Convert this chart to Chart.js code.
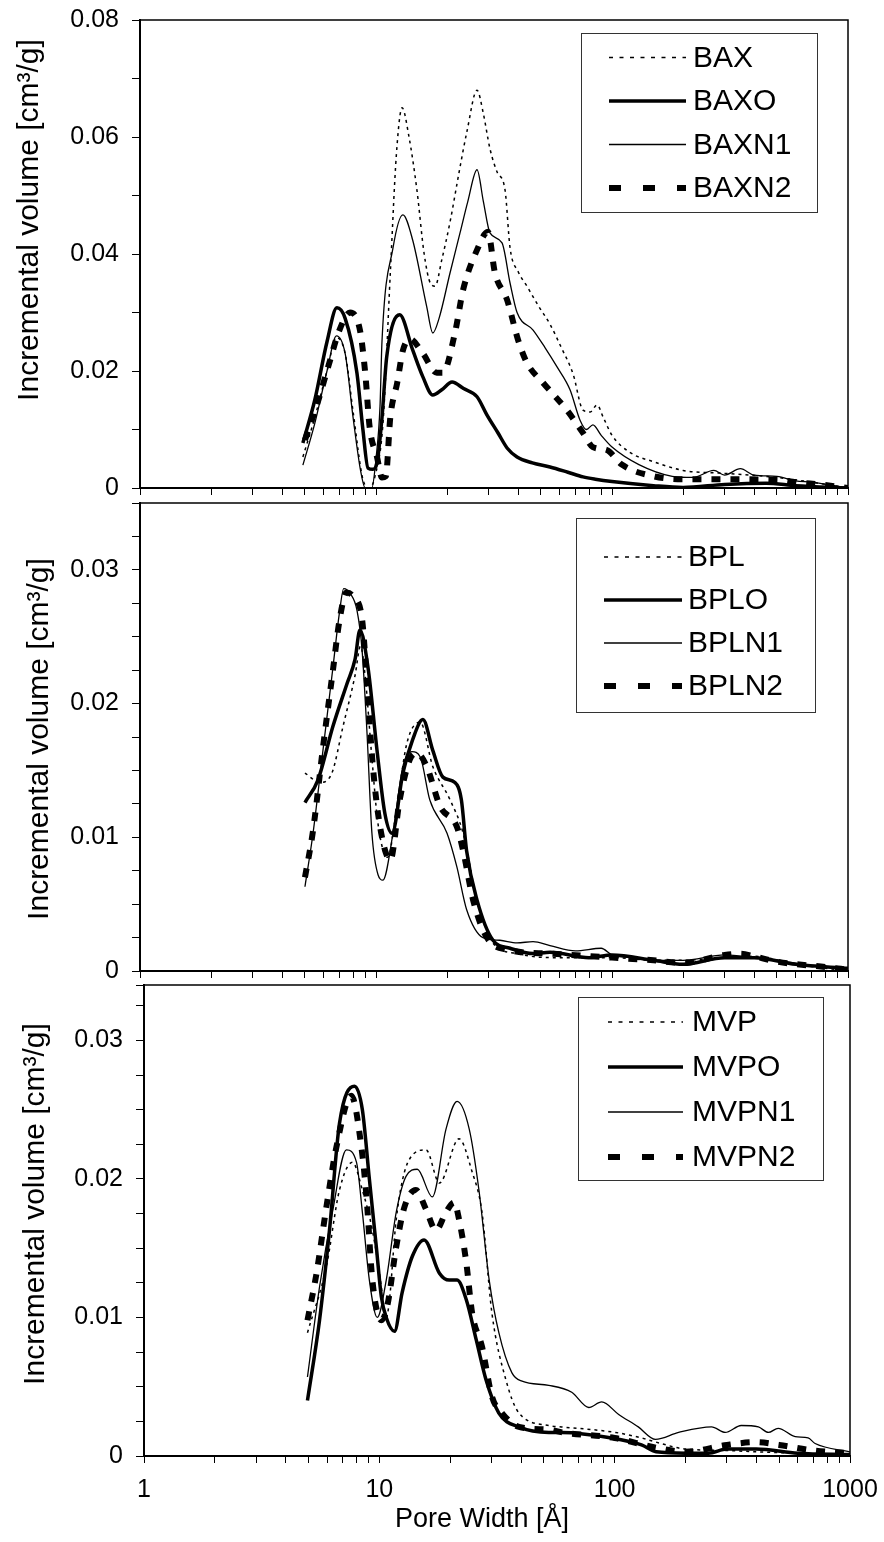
<!DOCTYPE html>
<html>
<head>
<meta charset="utf-8">
<script src="https://cdn.jsdelivr.net/npm/chart.js@4.4.0/dist/chart.umd.min.js"></script>
<style>
  body { margin: 0; background: #fff; width: 884px; height: 1542px; position: relative; overflow: hidden; }
  .panel { position: absolute; left: 0; width: 884px; }
  canvas { display: block; }
</style>
</head>
<body>
<div class="panel" style="top:0;height:500px"><canvas id="p1" width="884" height="500"></canvas></div>
<div class="panel" style="top:483px;height:500px"><canvas id="p2" width="884" height="500"></canvas></div>
<div class="panel" style="top:965px;height:577px"><canvas id="p3" width="884" height="577"></canvas></div>
<script>
// --- DATA (pore width in Å, incremental volume in cm3/g) ---
const baxX = [4.9, 5.5, 6.2, 6.8, 7.4, 8.0, 8.8, 9.4, 9.9, 10.7, 11.5, 12.2, 12.9, 13.8, 14.9, 16.0, 17.0, 17.8, 19.0, 20.6, 22.5, 24.3, 26.8, 28.5, 30.4, 32.6, 35.2, 37, 40, 43.6, 49, 54.6, 61, 68.4, 75.4, 81, 86.4, 92, 100, 120, 150, 200, 300, 500, 700, 1000];
const baxY = [0.0053, 0.012, 0.020, 0.0257, 0.023, 0.013, 0.0015, 0.0, 0.002, 0.011, 0.0368, 0.057, 0.065, 0.060, 0.051, 0.040, 0.035, 0.0345, 0.039, 0.0455, 0.054, 0.061, 0.068, 0.064, 0.058, 0.054, 0.051, 0.041, 0.037, 0.0345, 0.031, 0.028, 0.024, 0.0195, 0.0133, 0.013, 0.0142, 0.012, 0.009, 0.006, 0.0045, 0.003, 0.0025, 0.0018, 0.001, 0.0];
const baxoX = [4.9, 5.5, 6.2, 6.83, 7.4, 8.3, 8.8, 9.25, 9.7, 10.1, 10.6, 11.1, 12.6, 14.3, 15.8, 17.4, 19, 21, 23.5, 26.8, 29.5, 32.9, 36, 39.6, 46, 54.6, 65, 75.4, 85, 100, 150, 200, 300, 450, 600, 1000];
const baxoY = [0.0077, 0.015, 0.025, 0.0308, 0.029, 0.0197, 0.010, 0.0034, 0.0032, 0.0043, 0.012, 0.0224, 0.0296, 0.0236, 0.019, 0.0159, 0.0168, 0.0181, 0.017, 0.0156, 0.0125, 0.0094, 0.0068, 0.0053, 0.0043, 0.0036, 0.0027, 0.0019, 0.0015, 0.0011, 0.0004, 0.0001, 0.0006, 0.0008, 0.0004, 0.0];
const baxn1X = [4.9, 5.5, 6.2, 6.8, 7.4, 8.0, 8.6, 9.0, 9.6, 10.0, 10.4, 10.6, 11.8, 13.0, 14.3, 16.4, 17.4, 18.5, 20.6, 22.7, 24.5, 26.8, 28.5, 30.4, 34.2, 37, 39.6, 46.3, 52, 58.5, 66.4, 73.2, 78, 83, 90, 100, 130, 180, 220, 270, 300, 350, 400, 500, 600, 700, 1000];
const baxn1Y = [0.0039, 0.011, 0.020, 0.026, 0.023, 0.012, 0.003, 0.0, 0.0, 0.005, 0.014, 0.025, 0.041, 0.0467, 0.0424, 0.031, 0.0265, 0.029, 0.0368, 0.0436, 0.049, 0.0544, 0.049, 0.0436, 0.0419, 0.035, 0.030, 0.027, 0.024, 0.0207, 0.0168, 0.0116, 0.010, 0.0108, 0.009, 0.007, 0.004, 0.002, 0.0018, 0.003, 0.0022, 0.0033, 0.0022, 0.002, 0.0012, 0.001, 0.0];
const baxn2X = [5.0, 5.6, 6.3, 7.0, 7.76, 8.55, 9.0, 9.4, 10.1, 10.6, 11.0, 11.5, 12.3, 13.0, 13.9, 15.8, 18.1, 19.2, 21.6, 23.4, 26.8, 29.8, 31.9, 35.9, 40, 43.6, 51, 64.4, 75.4, 83, 95, 110, 150, 200, 300, 500, 600, 800, 1000];
const baxn2Y = [0.0082, 0.014, 0.021, 0.027, 0.030, 0.027, 0.0197, 0.0104, 0.0053, 0.0018, 0.002, 0.0121, 0.018, 0.0235, 0.0255, 0.023, 0.0197, 0.0197, 0.0265, 0.0339, 0.0407, 0.0438, 0.0368, 0.0322, 0.0253, 0.0214, 0.018, 0.0133, 0.0094, 0.007, 0.0065, 0.004, 0.002, 0.0015, 0.0015, 0.0014, 0.001, 0.0005, 0.0];

const bplX = [5.0, 5.79, 6.5, 7.25, 8.15, 8.6, 9.0, 9.6, 10.2, 11.2, 12.2, 13.5, 15.4, 17.4, 20.6, 23.4, 26.8, 31.3, 39.6, 54.6, 100, 150, 200, 300, 400, 600, 1000];
const bplY = [0.0148, 0.0141, 0.0148, 0.0183, 0.0221, 0.0243, 0.022, 0.016, 0.011, 0.0085, 0.012, 0.017, 0.0186, 0.0153, 0.0128, 0.0103, 0.0053, 0.0021, 0.0013, 0.001, 0.001, 0.0008, 0.0008, 0.001, 0.0011, 0.0005, 0.0];
const bploX = [5.0, 5.68, 6.57, 7.54, 8.15, 8.55, 9.25, 10.1, 10.9, 11.7, 13.0, 14.3, 15.8, 17.4, 19.2, 21.6, 23.0, 24.2, 26.8, 31.3, 37, 46.3, 54.6, 80, 100, 150, 200, 300, 400, 600, 1000];
const bploY = [0.0126, 0.0143, 0.0183, 0.0215, 0.0233, 0.0255, 0.0227, 0.0165, 0.0118, 0.0103, 0.0148, 0.0173, 0.0188, 0.0165, 0.0145, 0.0141, 0.0128, 0.009, 0.0053, 0.0023, 0.0017, 0.0013, 0.0014, 0.001, 0.0012, 0.0008, 0.0005, 0.001, 0.001, 0.0005, 0.0002];
const bpln1X = [5.0, 5.41, 5.96, 6.57, 7.0, 7.3, 7.8, 8.3, 8.73, 9.16, 9.61, 10.2, 10.7, 11.8, 13.0, 14.2, 15.4, 16.9, 20, 22, 24.2, 28.4, 33.5, 39.6, 46.3, 54.6, 70, 90, 100, 120, 150, 200, 300, 400, 500, 700, 1000];
const bpln1Y = [0.0063, 0.0103, 0.0165, 0.0227, 0.0268, 0.0286, 0.0282, 0.027, 0.024, 0.0178, 0.0103, 0.0072, 0.0068, 0.0103, 0.0153, 0.0164, 0.016, 0.0128, 0.0103, 0.0078, 0.0046, 0.0025, 0.0023, 0.0021, 0.0022, 0.0019, 0.0015, 0.0017, 0.0012, 0.001, 0.0008, 0.0008, 0.0012, 0.001, 0.0008, 0.0004, 0.0002];
const bpln2X = [5.0, 5.41, 5.96, 6.57, 7.0, 7.5, 8.0, 8.73, 9.16, 9.7, 10.4, 11.5, 12.6, 13.9, 14.9, 16.4, 18.7, 22, 23.4, 25.8, 29.5, 35.9, 54.6, 100, 150, 200, 300, 350, 400, 500, 800, 1000];
const bpln2Y = [0.007, 0.0105, 0.0167, 0.0225, 0.0262, 0.0283, 0.028, 0.0263, 0.0215, 0.0153, 0.0108, 0.0083, 0.0128, 0.0158, 0.0163, 0.0153, 0.0123, 0.0108, 0.009, 0.0053, 0.0025, 0.0016, 0.0013, 0.001, 0.0008, 0.0006, 0.0012, 0.0013, 0.0011, 0.0007, 0.0003, 0.0001];

const mvpX = [4.95, 5.96, 6.77, 7.69, 8.47, 9.34, 10.2, 10.6, 11.0, 11.8, 13.4, 15.8, 18, 21.8, 24.8, 27.3, 30.1, 34.5, 39.2, 52.5, 59.6, 101, 130, 150, 200, 300, 400, 600, 1000];
const mvpY = [0.0089, 0.0137, 0.0192, 0.0212, 0.0192, 0.0163, 0.0122, 0.0098, 0.011, 0.0171, 0.0214, 0.0221, 0.0197, 0.0229, 0.0205, 0.0176, 0.0103, 0.0055, 0.0031, 0.0022, 0.0021, 0.0017, 0.0013, 0.001, 0.0005, 0.0004, 0.0003, 0.0002, 0.0001];
const mvpoX = [4.95, 5.57, 6.14, 6.77, 7.84, 8.47, 9.07, 9.71, 10.2, 10.7, 11.6, 12.5, 13.8, 15.5, 18, 19.8, 21.4, 23.4, 25.8, 28.4, 32.2, 39.2, 52.5, 59.6, 97, 130, 150, 200, 250, 300, 400, 600, 1000];
const mvpoY = [0.004, 0.0098, 0.0163, 0.024, 0.0267, 0.025, 0.020, 0.0151, 0.0115, 0.010, 0.009, 0.0118, 0.0144, 0.0156, 0.0132, 0.0127, 0.0127, 0.0113, 0.0084, 0.0055, 0.0031, 0.0021, 0.0017, 0.0017, 0.0013, 0.0008, 0.0003, 0.0002, 0.0002, 0.0005, 0.0005, 0.0002, 0.0001];
const mvpn1X = [4.95, 5.57, 6.32, 7.25, 8.0, 8.47, 9.07, 9.8, 10.7, 11.8, 13.0, 14.5, 16.8, 19.2, 21.4, 24.1, 26.5, 29.3, 32.2, 36.6, 40.4, 52.5, 65.7, 77.6, 88.1, 104, 126, 149, 187, 258, 295, 345, 408, 450, 495, 585, 664, 711, 1000];
const mvpn1Y = [0.0057, 0.0122, 0.0176, 0.0221, 0.0212, 0.0176, 0.0127, 0.010, 0.0127, 0.0176, 0.0202, 0.0207, 0.0187, 0.0236, 0.0256, 0.0236, 0.0192, 0.0127, 0.0089, 0.006, 0.0054, 0.0051, 0.0046, 0.0035, 0.0039, 0.003, 0.0021, 0.0012, 0.0017, 0.0021, 0.0017, 0.0022, 0.0021, 0.0017, 0.002, 0.0014, 0.0013, 0.0009, 0.0003];
const mvpn2X = [4.95, 5.41, 5.96, 6.57, 7.6, 8.39, 8.82, 9.34, 10.2, 10.8, 11.8, 12.8, 14.3, 15.8, 17.4, 19.2, 20.8, 21.8, 23.4, 24.8, 27.3, 30.1, 33.2, 39.2, 52.5, 60, 100, 150, 200, 300, 400, 500, 700, 1000];
const mvpn2Y = [0.0098, 0.0132, 0.018, 0.0223, 0.026, 0.0223, 0.0187, 0.0127, 0.0098, 0.0108, 0.0151, 0.018, 0.0192, 0.0178, 0.0163, 0.0176, 0.0183, 0.0171, 0.014, 0.0103, 0.0079, 0.0043, 0.0031, 0.0021, 0.0019, 0.0017, 0.0013, 0.0006, 0.0003, 0.0008, 0.001, 0.0008, 0.0004, 0.0002];

const labels1 = ['BAX', 'BAXO', 'BAXN1', 'BAXN2'];
const labels2 = ['BPL', 'BPLO', 'BPLN1', 'BPLN2'];
const labels3 = ['MVP', 'MVPO', 'MVPN1', 'MVPN2'];
const xMajorTicks = [1, 10, 100, 1000];
const yTitle = 'Incremental volume [cm\u00B3/g]';
const xTitle = 'Pore Width [\u00C5]';

// --- STYLE ---
const FONT = "'Liberation Sans', Arial, sans-serif";
// dotted, thick solid, thin solid, thick dashed
const lineStyles = [
    { borderWidth: 1.5, borderDash: [3, 4], legendDash: [4, 6.5] },
    { borderWidth: 3.5, borderDash: [], legendDash: [] },
    { borderWidth: 1.3, borderDash: [], legendDash: [] },
    { borderWidth: 6, borderDash: [9, 10], legendDash: [12, 22] }
];

// minor ticks 1..9 per decade
const xTickValues = [];
[1, 10, 100].forEach(d => { for (let k = 1; k <= 9; k++) xTickValues.push(k * d); });
xTickValues.push(1000);

function toPoints(xs, ys) {
    return xs.map((x, i) => ({ x: x, y: ys[i] }));
}

function buildDatasets(labels, series) {
    return series.map((s, i) => ({
        label: labels[i],
        data: toPoints(s[0], s[1]),
        borderColor: '#000',
        borderWidth: lineStyles[i].borderWidth,
        borderDash: lineStyles[i].borderDash,
        legendDash: lineStyles[i].legendDash,
        pointRadius: 0,
        fill: false,
        cubicInterpolationMode: 'monotone'
    }));
}

// label overhang must not shrink the plot area
function noOverhang(s) {
    s.paddingTop = 0;
    s.paddingBottom = 0;
    s.paddingLeft = 0;
    s.paddingRight = 0;
}

// border box round the plot area
const framePlugin = {
    id: 'frame',
    afterDatasetsDraw(chart) {
        const { ctx, chartArea: a } = chart;
        ctx.save();
        ctx.strokeStyle = '#000';
        ctx.lineWidth = 1.5;
        ctx.strokeRect(a.left, a.top, a.right - a.left, a.bottom - a.top);
        ctx.restore();
    }
};

// boxed legend inside the plot
const boxLegendPlugin = {
    id: 'boxLegend',
    afterDraw(chart, args, opts) {
        const { ctx } = chart;
        const [x1, y1, x2, y2] = opts.box;
        ctx.save();
        ctx.fillStyle = '#fff';
        ctx.fillRect(x1, y1, x2 - x1, y2 - y1);
        ctx.strokeStyle = '#333';
        ctx.lineWidth = 1;
        ctx.strokeRect(x1 + 0.5, y1 + 0.5, x2 - x1, y2 - y1);
        chart.data.datasets.forEach((ds, i) => {
            const y = opts.rows[i];
            ctx.beginPath();
            ctx.setLineDash(ds.legendDash);
            ctx.lineWidth = ds.borderWidth;
            ctx.lineCap = 'butt';
            ctx.strokeStyle = '#000';
            ctx.moveTo(opts.line[0], y);
            ctx.lineTo(opts.line[1], y);
            ctx.stroke();
            ctx.setLineDash([]);
            ctx.fillStyle = '#000';
            ctx.font = '30px ' + FONT;
            ctx.textAlign = 'left';
            ctx.textBaseline = 'middle';
            ctx.fillText(ds.label, opts.textX, y + 1);
        });
        ctx.restore();
    }
};

// axis titles placed where the figure has them
const axisTitlesPlugin = {
    id: 'axisTitles',
    afterDraw(chart, args, opts) {
        const { ctx } = chart;
        ctx.save();
        ctx.fillStyle = '#000';
        ctx.textAlign = 'center';
        ctx.textBaseline = 'middle';
        if (opts.y) {
            ctx.save();
            ctx.font = '30px ' + FONT;
            ctx.translate(opts.y.x, opts.y.y);
            ctx.rotate(-Math.PI / 2);
            ctx.fillText(yTitle, 0, 0);
            ctx.restore();
        }
        if (opts.x) {
            ctx.font = '27px ' + FONT;
            ctx.fillText(xTitle, opts.x.x, opts.x.y);
        }
        ctx.restore();
    }
};

function makePanel(id, p) {
    const yTicks = [];
    const n = Math.round(Math.floor(p.ymax / p.yStep + 1e-6));
    for (let i = 0; i <= n; i++) yTicks.push(+(i * p.yStep).toFixed(5));
    if (yTicks[yTicks.length - 1] < p.ymax - 1e-9) yTicks.push(p.ymax);

    return new Chart(document.getElementById(id).getContext('2d'), {
        type: 'line',
        data: { datasets: buildDatasets(p.labels, p.series) },
        options: {
            responsive: false,
            animation: false,
            events: [],
            layout: { padding: { top: 20, right: p.padRight, left: 0, bottom: 0 } },
            plugins: {
                legend: { display: false },
                tooltip: { enabled: false },
                boxLegend: p.legend,
                axisTitles: p.titles
            },
            scales: {
                x: {
                    type: 'logarithmic',
                    min: 1,
                    max: 1000,
                    afterBuildTicks: s => { s.ticks = xTickValues.map(v => ({ value: v, major: xMajorTicks.includes(v) })); },
                    afterFit: s => { s.height = p.xHeight; noOverhang(s); },
                    border: { color: '#000', width: 2 },
                    grid: { drawOnChartArea: false, color: '#000', tickLength: 7, lineWidth: 1 },
                    ticks: {
                        autoSkip: false,
                        maxRotation: 0,
                        color: '#000',
                        padding: 12,
                        font: { family: FONT, size: 25 },
                        callback: v => (p.xLabels && xMajorTicks.includes(v)) ? String(v) : ''
                    }
                },
                y: {
                    min: 0,
                    max: p.ymax,
                    afterBuildTicks: s => { s.ticks = yTicks.map(v => ({ value: v })); },
                    afterFit: s => { s.width = p.left; noOverhang(s); },
                    border: { color: '#000', width: 2 },
                    grid: { drawOnChartArea: false, color: '#000', tickLength: 8, lineWidth: 1 },
                    ticks: {
                        color: '#000',
                        padding: 13,
                        font: { family: FONT, size: 25 },
                        callback: v => {
                            const r = v / p.yMajor;
                            if (Math.abs(r - Math.round(r)) > 1e-6) return '';
                            return v === 0 ? '0' : v.toFixed(2);
                        }
                    }
                }
            }
        },
        plugins: [framePlugin, boxLegendPlugin, axisTitlesPlugin]
    });
}

makePanel('p1', {
    labels: labels1,
    series: [[baxX, baxY], [baxoX, baxoY], [baxn1X, baxn1Y], [baxn2X, baxn2Y]],
    ymax: 0.08, yStep: 0.005, yMajor: 0.02,
    left: 140, padRight: 36, xHeight: 12, xLabels: false,
    legend: { box: [581, 33, 817, 212], rows: [57.5, 101, 144.5, 188], line: [609, 686], textX: 693 },
    titles: { y: { x: 30, y: 220 } }
});

makePanel('p2', {
    labels: labels2,
    series: [[bplX, bplY], [bploX, bploY], [bpln1X, bpln1Y], [bpln2X, bpln2Y]],
    ymax: 0.035, yStep: 0.0025, yMajor: 0.01,
    left: 140, padRight: 36, xHeight: 12, xLabels: false,
    legend: { box: [576, 35, 815, 229], rows: [74, 117, 160, 203], line: [604, 682], textX: 688 },
    titles: { y: { x: 40, y: 256 } }
});

makePanel('p3', {
    labels: labels3,
    series: [[mvpX, mvpY], [mvpoX, mvpoY], [mvpn1X, mvpn1Y], [mvpn2X, mvpn2Y]],
    ymax: 0.034, yStep: 0.0025, yMajor: 0.01,
    left: 144, padRight: 34, xHeight: 86, xLabels: true,
    legend: { box: [578, 32, 823, 215], rows: [57, 102, 147, 192], line: [608, 683], textX: 692 },
    titles: { y: { x: 36, y: 239 }, x: { x: 482, y: 555 } }
});
</script>
</body>
</html>
